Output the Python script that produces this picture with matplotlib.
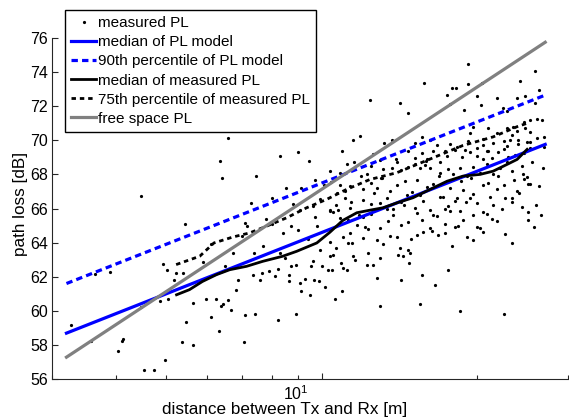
import matplotlib
matplotlib.use('Agg')
import matplotlib.pyplot as plt
import matplotlib.transforms as mtransforms
from matplotlib.ticker import FixedLocator, NullFormatter

plt.rcParams['font.family'] = ['Liberation Sans', 'DejaVu Sans']

# ---------------- data ----------------
# measured path loss samples: distance [m], path loss [dB]
meas_d = [
    3.27, 3.57, 3.63, 3.89, 4.02, 4.10, 4.12, 4.46, 4.53, 4.72, 4.97, 4.46,
    6.58, 6.34, 6.40, 8.29, 8.99, 9.43, 10.36, 10.84, 10.92, 11.17, 7.45, 8.52,
    9.69, 8.79, 9.06, 9.61, 9.91, 10.36, 10.76, 9.69, 7.81, 5.42,
    7.09, 7.15, 7.99, 8.41, 8.99, 4.93, 5.02, 5.22, 5.38, 5.16, 5.88, 6.73,
    6.87, 6.81, 7.38, 7.37, 7.58, 7.66, 7.89, 8.11, 8.23, 8.47, 8.64, 8.64,
    8.73, 8.93, 9.06, 9.13, 9.27, 9.48, 9.52, 9.62, 9.65, 9.88, 9.94, 9.99,
    10.14, 10.29, 10.45, 10.60, 10.88, 10.92, 11.00, 11.17, 11.25, 11.33,
    4.85, 5.04, 5.63, 5.97, 6.25, 6.43, 6.58, 6.39, 6.68, 6.11, 7.09, 7.41,
    8.23, 8.93, 5.45, 6.33, 5.36, 5.64, 7.07,
    19.2, 15.8, 17.85, 18.2, 19.2, 20.4, 12.39, 14.17, 17.45, 17.72, 19.95, 20.35,
    21.85, 14.7, 18.9, 22.45, 22.85, 23.9, 24.24, 24.8, 25.9, 26.3, 25.9, 24.6,
    25.35, 26.1, 26.7, 26.9, 11.5, 11.85, 13.65, 13.2, 12.55, 12.96, 11.55, 11.9,
    23.52, 21.04, 19.67,
    15.15, 15.61, 16.21, 19.38, 20.57, 21.84, 22.83, 22.5, 23.35, 24.05, 24.78,
    25.27, 23.88,
    16.7, 17.33, 18.26, 18.95, 19.23, 19.97, 20.57, 21.04, 21.51, 22.0, 22.83,
    23.17, 24.05, 25.34, 26.11,
    14.71, 15.15, 15.61, 15.97, 16.45, 16.95, 17.46, 18.12, 18.67, 19.38, 19.97,
    20.88, 21.35, 22.5, 23.7, 24.6, 25.34,
    12.21, 12.48, 13.15, 13.65, 13.96, 14.27, 14.71, 15.15, 15.5, 15.85, 16.21,
    16.95, 17.59, 17.99, 18.53, 19.09, 19.67, 20.27, 20.88, 21.51, 22.16, 22.83,
    23.35, 24.42, 24.97, 25.15,
    10.44, 10.84, 11.33, 12.03, 12.48, 12.77, 13.06, 13.55, 13.96, 14.49, 14.93,
    15.5, 15.97, 16.45, 16.95, 17.72, 18.26, 18.81, 19.67, 20.57, 21.2, 21.84,
    22.5, 23.35, 23.88, 24.6, 25.34,
    10.36, 10.67, 11.09, 11.33, 12.03, 12.48, 12.96, 13.35, 13.75, 14.27, 14.6,
    15.15, 15.73, 16.21, 17.2, 17.59, 18.12, 18.53, 19.38, 19.97, 20.57, 21.51,
    22.33, 23.35,
    10.52, 10.84, 11.25, 11.68, 12.03, 12.48, 12.96, 13.45, 13.75, 14.27, 14.71,
    15.27, 15.61, 16.21, 16.7, 17.33, 17.72, 18.4, 18.81, 19.67, 20.27, 20.88,
    21.84, 22.66, 24.42, 25.15, 25.15,
    10.36, 10.67, 11.0, 11.42, 12.03, 12.3, 12.77, 13.15, 13.55, 13.96, 14.17,
    14.71, 15.27, 15.73, 16.33, 16.82, 17.33, 17.85, 19.09, 19.67, 20.57, 23.35,
    10.36, 11.5, 11.59, 12.3, 12.58, 12.96, 14.06, 14.38, 14.78, 14.82, 12.21,
    14.27, 15.61, 16.57,
    12.96, 15.5, 18.5, 22.5,
    11.1, 11.4, 11.8, 12.1, 12.6, 13.0, 13.4, 13.9, 14.4, 14.9,
    15.3, 15.9, 16.4, 16.9, 17.3, 17.7, 18.1, 18.6,
    19.0, 19.5, 20.0, 20.5, 21.0, 21.4, 22.0, 22.6, 23.0, 23.6,
    24.1, 24.5, 25.0, 25.6, 26.0, 26.4, 26.8, 27.0, 26.6, 25.8,
    6.1, 6.5, 7.0, 7.3, 7.7, 8.0, 8.3, 8.7, 9.1, 9.4, 9.8, 10.1, 10.5, 10.7,
    12.8, 17.6,
]
meas_pl = [
    59.14, 58.24, 62.16, 62.28, 57.65, 58.24, 58.35, 66.72, 56.53, 56.53, 57.12, 60.25,
    70.12, 68.78, 67.76, 69.08, 69.34, 68.78, 68.19, 68.06, 69.37, 68.59, 67.90, 67.22,
    67.66, 66.24, 65.94, 66.14, 66.53, 65.94, 65.94, 65.51, 65.41, 65.12,
    65.16, 65.00, 65.12, 64.57, 64.76, 62.76, 62.41, 62.22, 62.22, 61.78, 62.86, 63.39,
    61.78, 61.24, 63.39, 62.12, 61.78, 62.22, 62.31, 62.02, 62.45, 63.10, 62.12, 61.76,
    62.61, 62.71, 61.63, 61.18, 61.86, 60.94, 62.65, 62.90, 61.78, 61.72, 63.59, 62.61,
    61.37, 62.41, 62.41, 60.69, 62.80, 61.14, 62.51, 62.41, 63.98, 64.57,
    60.55, 60.71, 60.45, 60.71, 60.71, 60.41, 60.65, 60.31, 60.06, 59.66, 59.76, 59.81,
    59.47, 59.82, 59.37, 58.84, 58.19, 58.00, 58.19,
    74.47, 73.34, 73.06, 73.06, 73.29, 73.34, 72.35, 72.16, 72.65, 72.12, 72.57, 72.08,
    72.49, 71.59, 71.78, 71.88, 71.72, 72.51, 73.49, 72.61, 74.08, 72.96, 72.16, 71.08,
    71.19, 71.24, 71.19, 70.19, 70.02, 70.25, 70.02, 69.82, 69.18, 68.84, 68.72, 67.90,
    70.80, 70.74, 70.80,
    69.85, 70.20, 70.00, 70.45, 70.05, 70.40, 70.70, 69.95, 70.30, 70.00, 70.75,
    70.50, 70.55,
    69.70, 69.35, 69.60, 69.45, 69.95, 69.55, 69.75, 69.40, 69.85, 69.30, 69.65,
    70.00, 69.80, 69.90, 70.15,
    69.35, 68.95, 69.25, 68.90, 69.40, 68.75, 69.10, 69.45, 69.00, 69.30, 69.05,
    69.35, 68.95, 69.50, 69.15, 69.25, 69.55,
    68.00, 68.50, 68.30, 68.40, 68.70, 68.25, 68.45, 68.60, 68.35, 68.55, 68.40,
    68.10, 68.30, 68.00, 68.35, 67.90, 68.45, 68.10, 68.60, 68.05, 68.40, 68.75,
    68.20, 68.50, 67.85, 67.45,
    67.55, 67.40, 67.30, 67.15, 67.50, 67.20, 67.80, 67.05, 67.40, 67.60, 66.95,
    66.80, 67.25, 67.45, 66.70, 67.20, 66.60, 67.10, 66.85, 67.35, 66.65, 67.15,
    67.35, 66.60, 67.00, 67.75, 67.45,
    65.85, 66.20, 66.60, 66.05, 66.50, 66.25, 66.35, 66.60, 65.95, 66.40, 66.80,
    66.05, 66.45, 65.90, 66.65, 66.15, 66.45, 65.85, 66.60, 66.30, 65.80, 66.20,
    66.00, 66.40,
    65.80, 65.45, 65.30, 65.05, 65.50, 65.70, 64.85, 65.25, 65.60, 65.05, 65.20,
    65.75, 65.35, 64.85, 65.55, 65.10, 65.85, 64.95, 65.35, 65.60, 64.85, 65.70,
    65.25, 64.50, 66.10, 65.80, 65.30,
    64.05, 63.70, 64.35, 64.00, 64.25, 64.80, 64.15, 63.90, 64.40, 64.30, 63.70,
    63.55, 64.45, 64.60, 64.70, 64.45, 64.55, 63.80, 64.30, 64.15, 64.65, 64.00,
    63.20, 63.20, 63.00, 63.39, 62.71, 63.10, 63.29, 63.20, 62.80, 63.39, 62.71,
    61.82, 62.12, 61.53,
    60.30, 60.40, 60.00, 59.80,
    67.00, 66.40, 65.60, 64.90, 66.90, 67.80, 66.00, 68.90, 66.20, 64.20,
    67.70, 68.80, 65.60, 67.90, 66.00, 69.80, 64.90, 67.60,
    66.40, 67.80, 64.90, 68.90, 67.50, 65.40, 67.90, 66.60, 69.00, 67.70,
    66.90, 68.00, 69.90, 68.70, 66.20, 67.30, 68.40, 69.60, 65.60, 64.90,
    63.90, 62.60, 64.40, 66.30, 63.80, 66.60, 63.40, 65.00, 67.20, 64.20, 65.00,
    67.40, 63.30, 66.90,
    61.90, 62.40,
]

# PL model (straight lines in log distance)
model_d = [3.2, 27.1]
model_median = [58.69, 69.76]
model_p90 = [61.6, 72.65]

# free space path loss
fs_d = [3.2, 27.1]
fs_pl = [57.28, 75.75]

# median of measured PL
med_d = [5.23, 5.54, 5.87, 6.25, 6.63, 7.15, 7.68, 8.40, 8.94, 9.78, 10.36,
         10.98, 11.69, 12.39, 13.13, 13.98, 15.02, 16.21, 17.49, 18.78, 20.27,
         21.48, 22.87, 23.91, 25.0]
med_pl = [60.94, 61.24, 61.72, 62.12, 62.41, 62.61, 62.90, 63.20, 63.49, 63.98,
          64.60, 65.30, 65.75, 65.90, 66.04, 66.33, 66.63, 67.12, 67.60, 67.90,
          68.00, 68.19, 68.59, 68.88, 69.47]

# 75th percentile of measured PL
p75_d = [5.22, 5.80, 6.18, 6.73, 7.25, 7.81, 8.54, 9.34, 10.21, 11.17, 12.39,
         13.98, 16.21, 18.78, 21.48, 23.91, 25.0]
p75_pl = [62.71, 63.20, 63.98, 64.33, 64.57, 64.96, 65.45, 66.04, 66.53, 67.12,
          67.70, 68.10, 68.90, 69.70, 70.20, 70.80, 71.00]

y_ticks = [56, 58, 60, 62, 64, 66, 68, 70, 72, 74, 76]
x_major = [10]
x_minor = [3, 4, 5, 6, 7, 8, 9, 20, 30]

# ---------------- figure ----------------
W, H = 569, 419
fig = plt.figure(figsize=(W / 100, H / 100), dpi=100)
ax = fig.add_axes([52 / W, 1 - 379 / H, (568 - 52) / W, (379 - 38) / H])

ax.plot(meas_d, meas_pl, 'o', ms=2.3, color='k', mec='none', label='measured PL')
ax.plot(model_d, model_median, '-', color='#0000ff', lw=2.3, label='median of PL model')
ax.plot(model_d, model_p90, '--', color='#0000ff', lw=2.3, dashes=(2.0, 1.3),
        label='90th percentile of PL model')
ax.plot(med_d, med_pl, '-', color='k', lw=2.0, label='median of measured PL')
ax.plot(p75_d, p75_pl, '--', color='k', lw=2.0, dashes=(1.6, 1.4),
        label='75th percentile of measured PL')
ax.plot(fs_d, fs_pl, '-', color='#808080', lw=2.3, label='free space PL')

ax.set_xscale('log')
ax.set_xlim(3, 30)
ax.set_ylim(56, 76)

ax.spines['top'].set_visible(False)
ax.spines['right'].set_visible(False)
for s in ('left', 'bottom'):
    ax.spines[s].set_linewidth(0.8)
    ax.spines[s].set_color('#262626')

ax.set_yticks(y_ticks)
ax.xaxis.set_major_locator(FixedLocator(x_major))
ax.xaxis.set_minor_locator(FixedLocator(x_minor))
ax.xaxis.set_minor_formatter(NullFormatter())
ax.set_xticklabels([r'$\mathregular{10^{1}}$'])
ax.tick_params(axis='both', which='major', direction='in', length=4.5, width=0.8,
               labelsize=11.5, color='#262626', pad=3)
ax.tick_params(axis='x', which='minor', direction='in', length=3, width=0.8,
               color='#262626')
ax.tick_params(axis='x', which='major', pad=4)

offset = mtransforms.ScaledTranslation(-0.26, 0, fig.dpi_scale_trans)
for lab in ax.get_xticklabels():
    lab.set_transform(lab.get_transform() + offset)

ax.set_xlabel('distance between Tx and Rx [m]', fontsize=12.3)
ax.set_ylabel('path loss [dB]', fontsize=12.3)
ax.xaxis.set_label_coords((285 - 52) / 516, -0.068)
ax.yaxis.set_label_coords(-0.046, 0.513)

leg = ax.legend(loc='upper left', bbox_to_anchor=(65 / W, 1 - 10 / H),
                bbox_transform=fig.transFigure, borderaxespad=0, frameon=True,
                fancybox=False, edgecolor='k', framealpha=1, handlelength=1.6,
                handletextpad=0.13, borderpad=0.42, labelspacing=0.33,
                fontsize=11, numpoints=1, markerscale=1.0)
leg.get_frame().set_linewidth(1.0)

fig.savefig('out.png', dpi=100)
